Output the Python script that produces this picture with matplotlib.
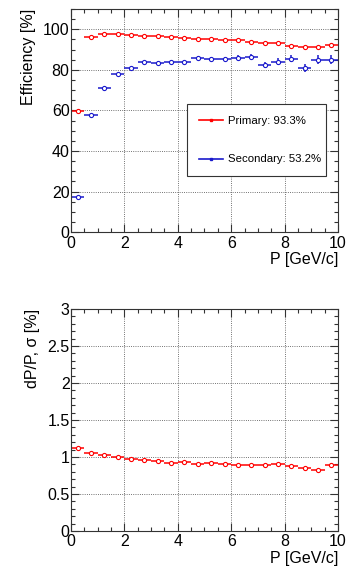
#!/usr/bin/env python3
# -*- coding: utf-8 -*-
import numpy as np
import matplotlib
matplotlib.use('Agg')
import matplotlib.pyplot as plt
from matplotlib.ticker import MultipleLocator
from matplotlib.lines import Line2D

plt.rcParams['font.family'] = ['Liberation Sans', 'DejaVu Sans']

# bin centres, width 0.5 GeV/c
p_centres = [0.25, 0.75, 1.25, 1.75, 2.25, 2.75, 3.25, 3.75, 4.25, 4.75,
             5.25, 5.75, 6.25, 6.75, 7.25, 7.75, 8.25, 8.75, 9.25, 9.75]
eff_primary = [59.5, 96.2, 97.5, 97.5, 97.2, 96.9, 96.7, 96.2, 95.7, 95.4,
               95.2, 94.9, 94.7, 93.6, 93.1, 93.1, 91.9, 91.4, 91.4, 92.2]
eff_primary_err = [0.3, 0.3, 0.2, 0.2, 0.2, 0.2, 0.2, 0.2, 0.2, 0.2,
                   0.2, 0.2, 0.2, 0.3, 0.3, 0.3, 0.4, 0.4, 0.4, 0.4]
eff_secondary = [17.5, 57.5, 70.9, 78.0, 81.0, 83.8, 83.5, 84.1, 84.1, 85.8,
                 85.5, 85.5, 86.1, 86.4, 82.5, 84.0, 85.6, 80.8, 85.1, 85.0]
eff_secondary_err = [0.4, 0.5, 0.5, 0.6, 0.6, 0.7, 0.7, 0.8, 0.8, 0.9,
                     1.0, 1.0, 1.1, 1.2, 1.6, 1.7, 1.9, 2.0, 2.2, 2.3]
resolution = [1.117, 1.06, 1.03, 1.0, 0.973, 0.96, 0.946, 0.923, 0.928, 0.91,
              0.914, 0.905, 0.896, 0.896, 0.892, 0.9, 0.883, 0.856, 0.824, 0.887]
legend_labels = ['Primary: 93.3%', 'Secondary: 53.2%']

RED = '#ff0000'
BLUE = '#1a1acc'
HALF_BIN = 0.25
FS = 11.5


def style_axes(ax, ymajor, yminor):
	ax.set_xlim(0, 10)
	ax.xaxis.set_major_locator(MultipleLocator(2))
	ax.xaxis.set_minor_locator(MultipleLocator(0.5))
	ax.yaxis.set_major_locator(MultipleLocator(ymajor))
	ax.yaxis.set_minor_locator(MultipleLocator(yminor))
	ax.tick_params(which='both', direction='in', top=True, right=True,
	               labelsize=FS, width=0.8, color='#333333')
	ax.tick_params(axis='y', pad=1)
	ax.tick_params(axis='x', pad=2.5)
	ax.tick_params(which='major', length=6)
	ax.tick_params(which='minor', length=3)
	ax.grid(which='major', linestyle=':', color='#444444', linewidth=0.6)
	for s in ax.spines.values():
		s.set_linewidth(0.8)
		s.set_color('#333333')
	ax.set_axisbelow(True)
	ax.set_xlabel('P [GeV/c]', fontsize=FS, loc='right', labelpad=1)


def draw(ax, y, yerr, color):
	ax.errorbar(p_centres, y, xerr=HALF_BIN, yerr=yerr, fmt='o',
	            color=color, ms=3, mfc='white', mec=color, mew=0.8,
	            elinewidth=1.1, capsize=0)


fig = plt.figure(figsize=(3.46, 5.66), dpi=100)

# Efficiency
ax1 = fig.add_axes([0.205, 0.590, 0.772, 0.394])
draw(ax1, eff_primary, eff_primary_err, RED)
draw(ax1, eff_secondary, eff_secondary_err, BLUE)
ax1.set_ylim(0, 110)
style_axes(ax1, 20, 5)
ax1.set_ylabel('Efficiency [%]', fontsize=FS, loc='top', labelpad=5)
handles = [Line2D([], [], color=c, lw=1.2, marker='s', ms=2) for c in (RED, BLUE)]
leg = ax1.legend(handles, legend_labels, loc='upper left',
                 bbox_to_anchor=(0.434, 0.251, 0.521, 0.323), mode='expand',
                 fontsize=8.2, frameon=True, fancybox=False, framealpha=1,
                 edgecolor='#333333', handlelength=2.1, labelspacing=2.5,
                 borderpad=1.05, handletextpad=0.5, borderaxespad=0)
leg.get_frame().set_linewidth(0.8)

# Momentum resolution
ax2 = fig.add_axes([0.205, 0.062, 0.772, 0.392])
draw(ax2, resolution, 0.005, RED)
ax2.set_ylim(0, 3)
style_axes(ax2, 0.5, 0.1)
ax2.yaxis.set_major_formatter(plt.FuncFormatter(lambda v, _: '%g' % v))
ax2.set_ylabel('dP/P, \u03c3 [%]', fontsize=FS, loc='top', labelpad=5)

fig.savefig('out.png', dpi=100)
